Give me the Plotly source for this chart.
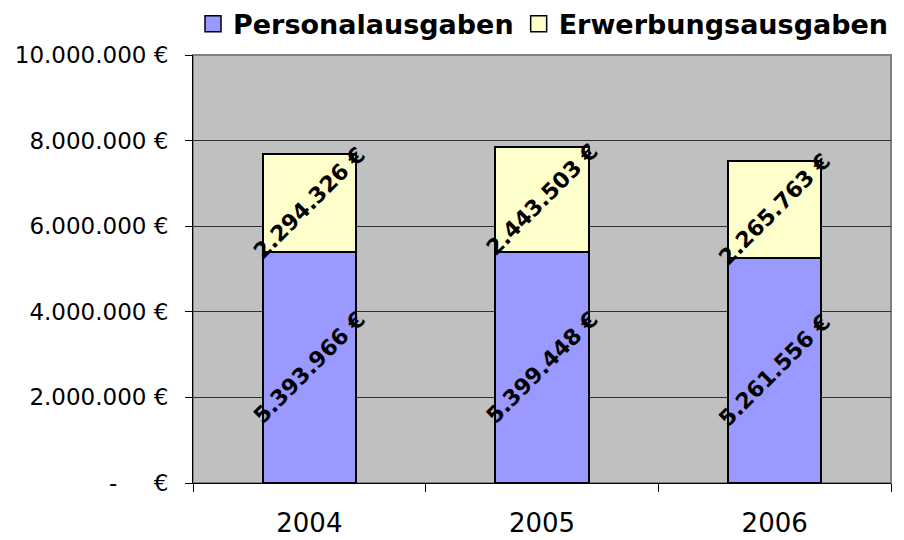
import plotly.graph_objects as go

years = ["2004", "2005", "2006"]
personal = [5393966, 5399448, 5261556]
erwerbung = [2294326, 2443503, 2265763]
series_names = ["Personalausgaben", "Erwerbungsausgaben"]
series_colors = ["#9999FF", "#FFFFCC"]
y_tick_vals = [0, 2000000, 4000000, 6000000, 8000000, 10000000]
y_tick_text = ["-     €", "2.000.000 €", "4.000.000 €", "6.000.000 €", "8.000.000 €", "10.000.000 €"]

label_font = dict(family="DejaVu Sans", size=22, color="black", weight="bold")

fig = go.Figure()
for name, vals, col in zip(series_names, [personal, erwerbung], series_colors):
    fig.add_trace(go.Bar(
        name=name, x=years, y=vals, showlegend=False,
        marker=dict(color=col, line=dict(color="black", width=2)),
        width=0.4,
        texttemplate="%{y:,.0f} €", textposition="inside", textangle=-45,
        insidetextanchor="middle", constraintext="none",
        insidetextfont=label_font, hoverinfo="skip",
    ))
# legend entries with larger square swatches
for name, col in zip(series_names, series_colors):
    fig.add_trace(go.Scatter(
        name=name, x=[None], y=[None], mode="markers",
        marker=dict(symbol="square", size=16, color=col, line=dict(color="black", width=1.5)),
        showlegend=True,
    ))

fig.update_layout(
    width=904, height=540,
    barmode="stack",
    separators=",.",
    paper_bgcolor="white",
    plot_bgcolor="#C0C0C0",
    margin=dict(l=193, r=13, t=55, b=57, autoexpand=False),
    font=dict(family="DejaVu Sans", color="black"),
    legend=dict(
        orientation="h", x=0, xanchor="left", y=1.015, yanchor="bottom",
        traceorder="normal",
        font=dict(family="DejaVu Sans", size=27, color="black", weight="bold"),
        bgcolor="rgba(0,0,0,0)", itemclick=False,
    ),
    showlegend=True,
    shapes=[dict(type="rect", xref="paper", yref="paper", x0=0, x1=1, y0=0, y1=1,
                 line=dict(color="#808080", width=2), layer="below")],
)
fig.update_xaxes(
    type="category", tickson="boundaries", ticks="outside", ticklen=8,
    tickcolor="black", showline=True, linecolor="black", linewidth=1,
    showgrid=False, tickfont=dict(family="DejaVu Sans", size=26, color="black"),
    ticklabelstandoff=17, automargin=False,
)
fig.update_yaxes(
    range=[0, 10000000], tickvals=y_tick_vals, ticktext=y_tick_text,
    ticks="outside", ticklen=7, tickcolor="black",
    showline=True, linecolor="black", linewidth=1,
    showgrid=True, gridcolor="#303030", gridwidth=1, zeroline=False,
    tickfont=dict(family="DejaVu Sans", size=23, color="black"),
    ticklabelstandoff=12, automargin=False,
)

fig.write_html("out.html", config={"displayModeBar": False},
               post_script="document.body.style.margin='0';document.body.style.overflow='hidden';")
